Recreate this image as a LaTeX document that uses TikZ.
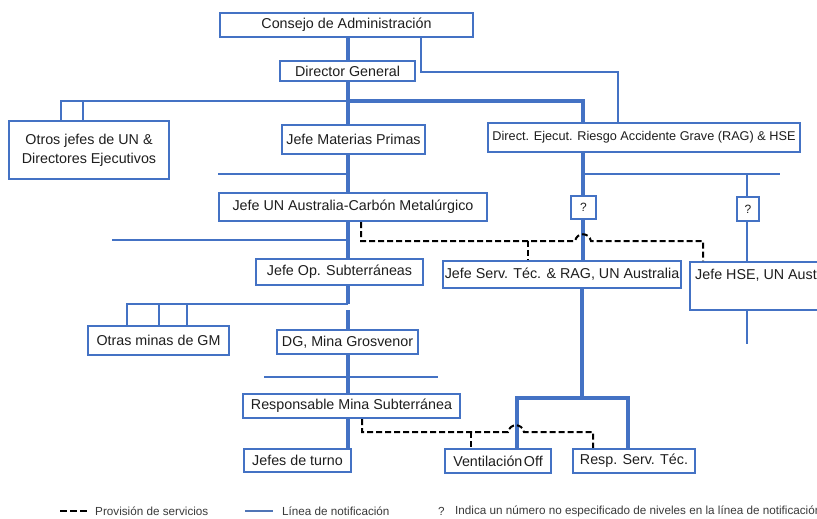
\documentclass[tikz,border=0pt]{standalone}
\usepackage{fontspec}
\setmainfont{Liberation Sans}
\definecolor{orgblue}{HTML}{4472C4}
\definecolor{txt}{HTML}{1E1E1E}
\definecolor{legtxt}{HTML}{3A3A3A}
\tikzset{
  box/.style={draw=orgblue, line width=2.4pt, fill=white, inner sep=0pt, text=txt,
    font=\fontsize{14.3}{17}\selectfont, align=center},
  smallbox/.style={box, font=\fontsize{12.7}{15}\selectfont},
  repline/.style={draw=orgblue, line width=2pt},
  repthick/.style={draw=orgblue, line width=4pt},
  svcdash/.style={draw=black, line width=2pt, dash pattern=on 6pt off 3pt},
  legend/.style={anchor=west, inner sep=0pt, text=legtxt, font=\fontsize{11.7}{14}\selectfont}
}
\begin{document}
\begin{tikzpicture}[x=1pt,y=-1pt, line join=miter]
\useasboundingbox (0,0) rectangle (817,519);
\clip (0,0) rectangle (817,519);

% ---------- boxes ----------
\node[box, minimum width=253, minimum height=24] (consejo) at (346.5,25) {Consejo de Administración};
\node[box, minimum width=135, minimum height=20] (dg) at (347.5,71) {Director General};
\node[box, minimum width=160, minimum height=58] (otros) at (89,150) {Otros jefes de UN \&\\[2pt]Directores Ejecutivos};
\node[box, minimum width=143, minimum height=29] (mp) at (353.5,139.5) {Jefe Materias Primas};
\node[smallbox, minimum width=312, minimum height=29] (dea) at (644,137.5) {Direct. Ejecut. Riesgo Accidente Grave (RAG) \& HSE};
\node[box, minimum width=268, minimum height=28] (un) at (353,207) {Jefe UN Australia-Carbón Metalúrgico};
\node[box, minimum width=25, minimum height=23, font=\fontsize{12}{14}\selectfont] (q1) at (583.5,207.5) {?};
\node[box, minimum width=22, minimum height=24, font=\fontsize{12}{14}\selectfont] (q2) at (748,209) {?};
\node[box, minimum width=167, minimum height=26] (op) at (339.5,272) {Jefe Op. Subterráneas};
\node[box, minimum width=238, minimum height=27] (jst) at (562,274.5) {Jefe Serv. Téc. \& RAG, UN Australia};
\node[box, minimum width=170, minimum height=48, anchor=north west] (hse) at (689,261) {};
\node[anchor=base west, inner sep=0pt, text=txt, font=\fontsize{14.3}{17}\selectfont] (hsetxt) at (695,279.5) {Jefe HSE, UN Australia};
\node[box, minimum width=141, minimum height=29] (otras) at (158.5,340.5) {Otras minas de GM};
\node[box, minimum width=141, minimum height=24] (gm) at (347.5,342) {DG, Mina Grosvenor};
\node[box, minimum width=217, minimum height=24] (resp) at (351.5,406) {Responsable Mina Subterránea};
\node[box, minimum width=107, minimum height=23] (turno) at (297.5,460.5) {Jefes de turno};
\node[box, minimum width=106, minimum height=24] (vent) at (498,461) {Ventilación\hspace{1.5pt}Off};
\node[box, minimum width=122, minimum height=24] (rst) at (634,461) {Resp. Serv. Téc.};

% ---------- reference x positions ----------
\coordinate (sx) at (348,0);
\coordinate (cx) at (421,0);
\coordinate (ex) at (618,0);
\coordinate (dx) at (583,0);
\coordinate (hx) at (747,0);
\coordinate (o1) at (61,0);
\coordinate (o2) at (83,0);
\coordinate (m1) at (127,0);
\coordinate (m2) at (159,0);
\coordinate (m3) at (187,0);
\coordinate (vx) at (517,0);
\coordinate (rx) at (628,0);
\coordinate (jx) at (582,0);
\coordinate (j1) at (348,101);
\coordinate (j2) at (348,304);
\coordinate (j3) at (348,310);
\coordinate (j4) at (583,174);
\coordinate (j5) at (582,398);

% ---------- reporting lines (thin) ----------
\draw[repline] (consejo.south -| cx) -- ++(0,34) -| (dea.north -| ex);
\draw[repline] (j1) -| (otros.north -| o1);
\draw[repline] (o2 |- j1) -- (otros.north -| o2);
\draw[repline] (218,174) -- (348,174);
\draw[repline] (112,240) -- (348,240);
\draw[repline] (j2) -| (otras.north -| m1);
\draw[repline] (m2 |- j2) -- (otras.north -| m2);
\draw[repline] (m3 |- j2) -- (otras.north -| m3);
\draw[repline] (264,377) -- (438,377);
\draw[repline] (j4) -- (780,174);
\draw[repline] (hx |- j4) -- (q2.north -| hx);
\draw[repline] (q2.south -| hx) -- (hse.north -| hx);
\draw[repline] (hse.south -| hx) -- (747,344);

% ---------- reporting lines (thick) ----------
\draw[repthick] (consejo.south -| sx) -- (dg.north -| sx);
\draw[repthick] (dg.south -| sx) -- (mp.north -| sx);
\draw[repthick] (j1) -| (dea.north -| dx);
\draw[repthick] (mp.south -| sx) -- (un.north -| sx);
\draw[repthick] (un.south -| sx) -- (op.north -| sx);
\draw[repthick] (op.south -| sx) -- (j2);
\draw[repthick] (j3) -- (gm.north -| sx);
\draw[repthick] (gm.south -| sx) -- (resp.north -| sx);
\draw[repthick] (resp.south -| sx) -- (turno.north -| sx);
\draw[repthick] (dea.south -| dx) -- (q1.north -| dx);
\draw[repthick] (q1.south -| dx) -- (jst.north -| dx);
\draw[repthick] (jst.south -| jx) -- (j5);
\draw[repthick] (vent.north -| vx) |- (j5) -| (rst.north -| rx);

% ---------- service lines (dashed) ----------
\draw[svcdash] (un.south -| 361,0) -- (361,241) -- (575,241)
   .. controls (577,232) and (589,232) .. (591,241) -- (703,241) -- (hse.north -| 703,0);
\draw[svcdash] (528,241) -- (jst.north -| 528,0);
\draw[svcdash] (resp.south -| 362,0) -- (362,432) -- (508,432)
   .. controls (510,423) and (522,423) .. (524,432) -- (593,432) -- (rst.north -| 593,0);
\draw[svcdash] (471,432) -- (vent.north -| 471,0);

% ---------- legend ----------
\coordinate (la) at (60,511);
\coordinate (lb) at (87,511);
\draw[svcdash, dash pattern=on 7pt off 3pt] (la) -- (lb);
\node[legend] (l1) at (95,511) {Provisión de servicios};
\coordinate (lc) at (245,511);
\coordinate (ld) at (273,511);
\draw[repline, draw=orgblue!80!gray] (lc) -- (ld);
\node[legend] (l2) at (282,511) {Línea de notificación};
\node[legend] (l3) at (438,511) {?};
\node[legend] (l4) at (455,511) {Indica un número no especificado de niveles en la línea de notificación};
\end{tikzpicture}
\end{document}
